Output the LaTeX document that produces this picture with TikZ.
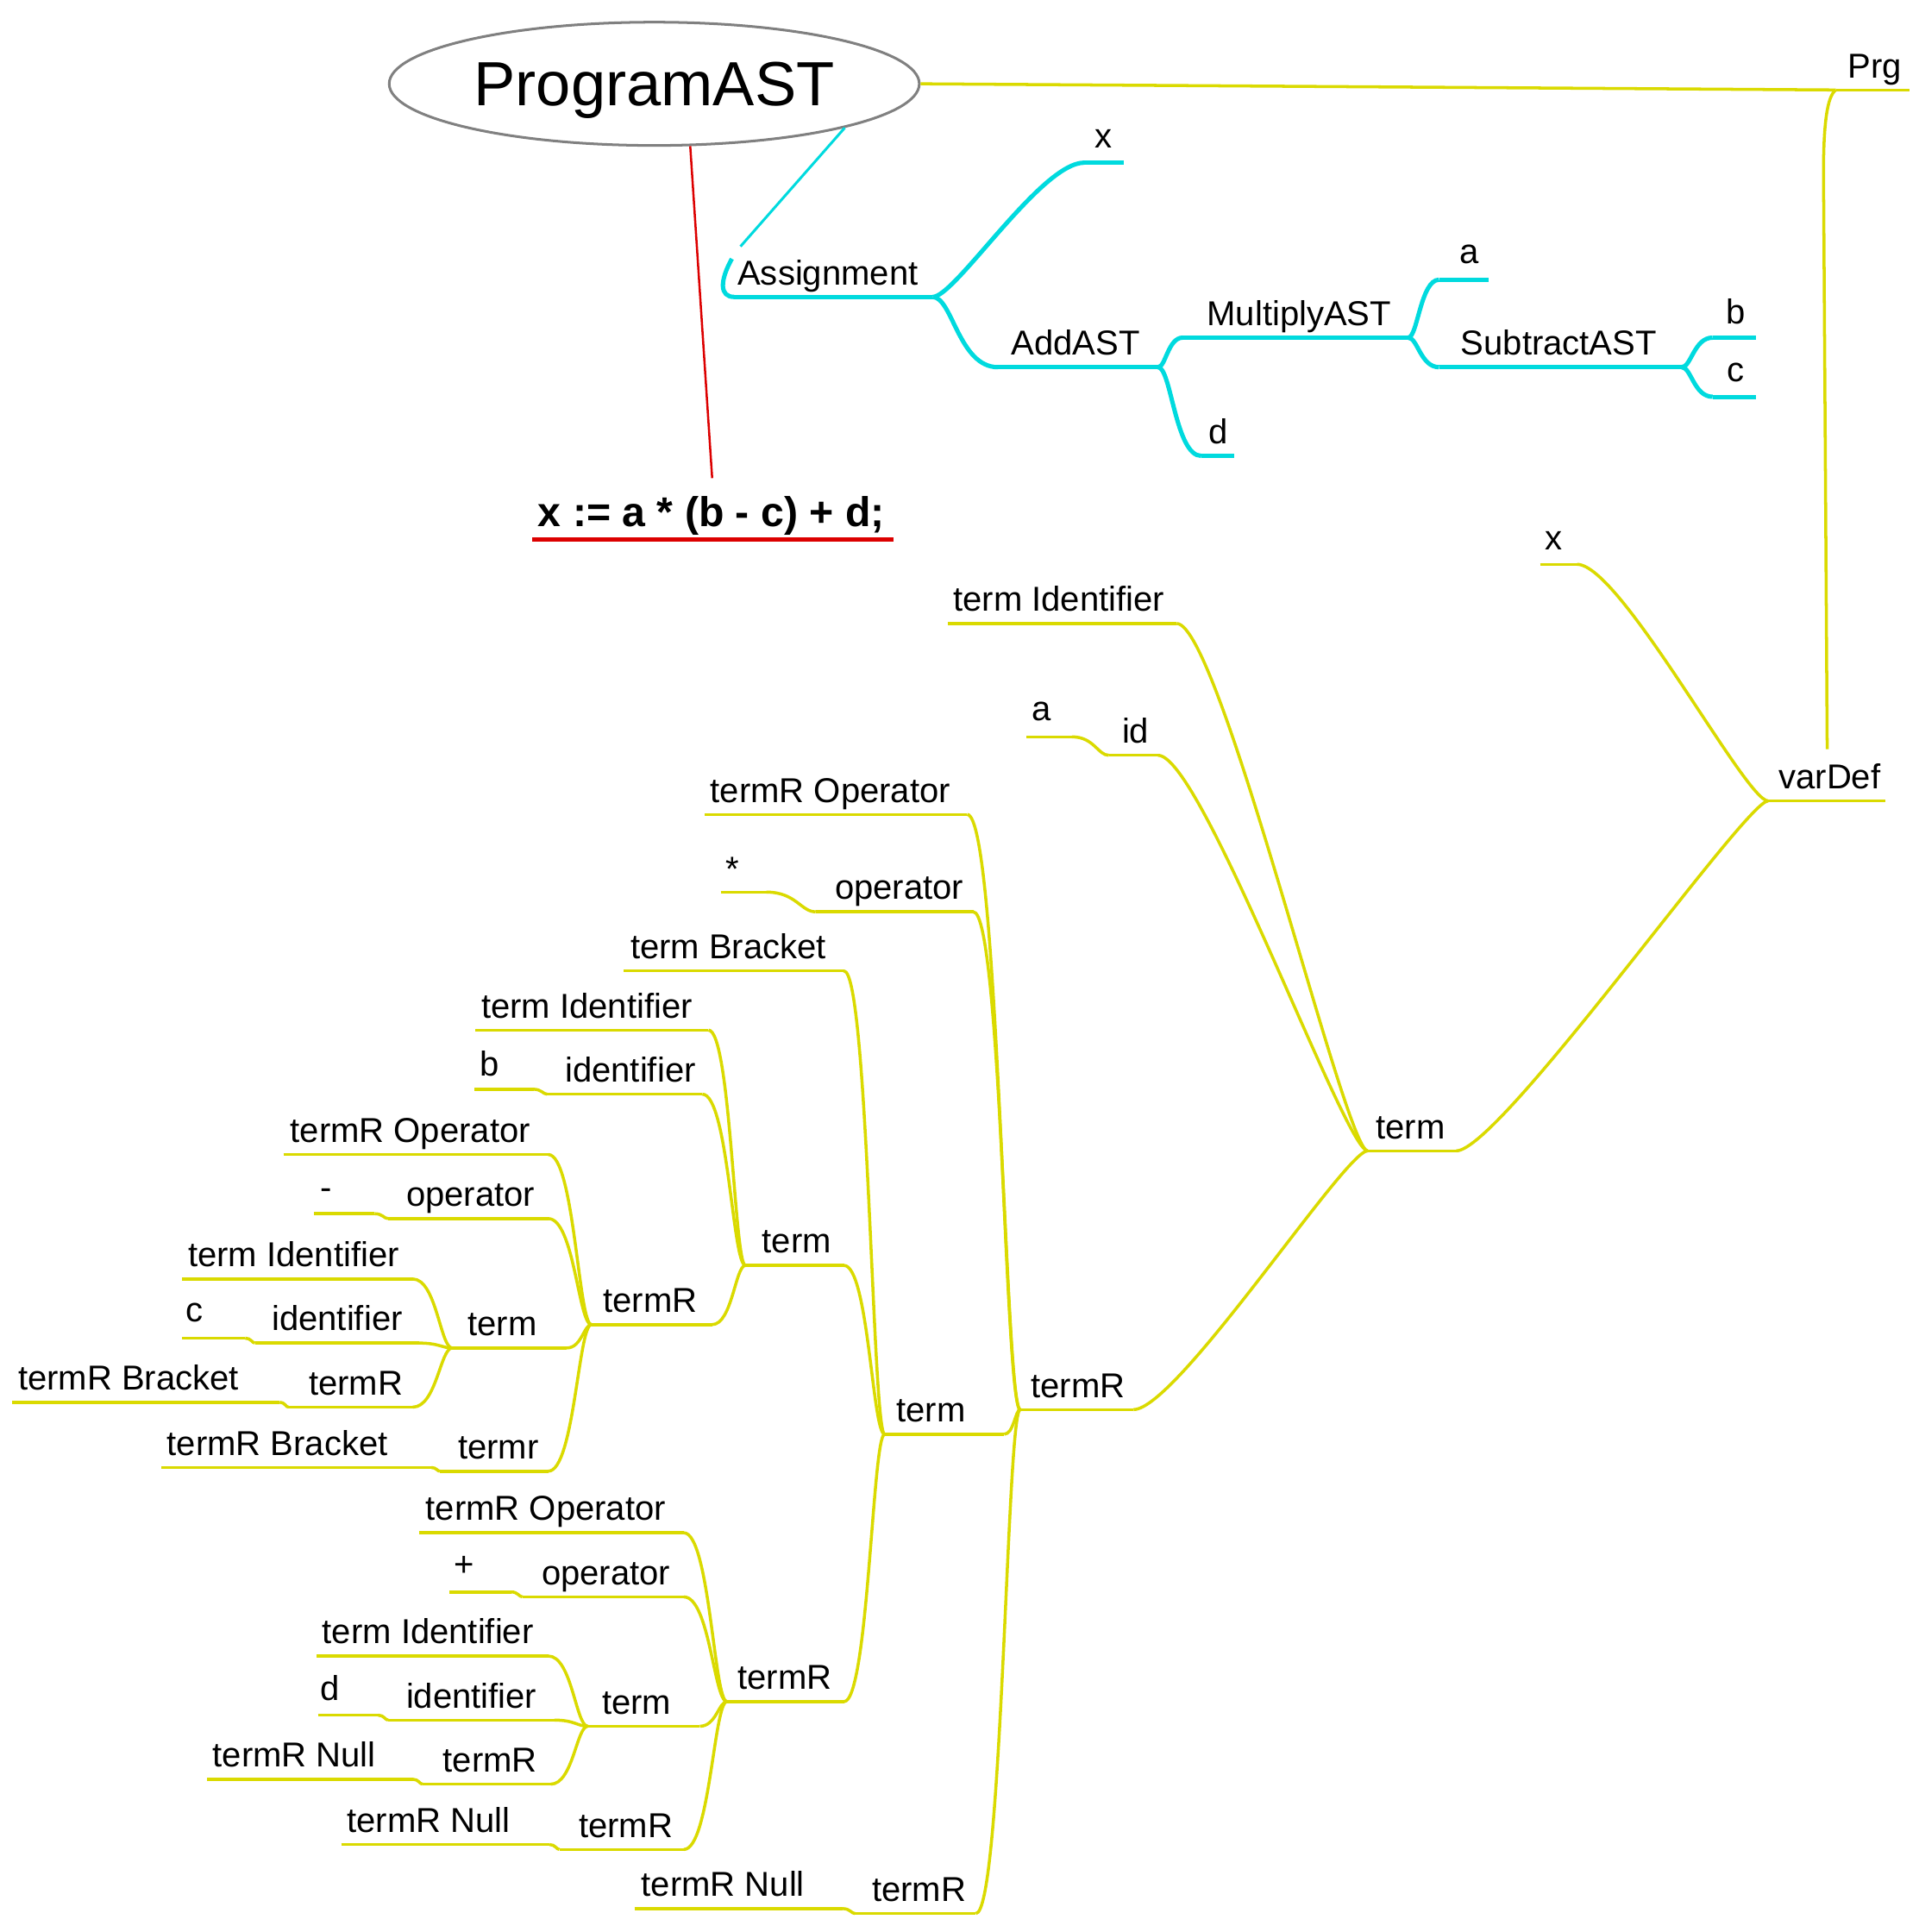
\documentclass[tikz,border=0pt]{standalone}
\usepackage{fontspec}
\setmainfont{Liberation Sans}
\usetikzlibrary{calc,shapes.geometric}
\definecolor{ylw}{RGB}{218,218,0}
\definecolor{cyn}{RGB}{0,218,222}
\definecolor{rd}{RGB}{220,0,0}
\newcommand{\mmnode}[8]{%
  \coordinate (#2L) at (#6,#5);
  \coordinate (#2R) at (#7,#5);
  \draw[#1] (#2L) -- (#2R);
  \node[txt, anchor=base west] (#2) at (#4,#5-#8) {#3};
}
\begin{document}
\begin{tikzpicture}[x=0.01cm,y=-0.01cm,
  txt/.style={inner sep=0pt, font=\fontsize{7.97pt}{9pt}\selectfont},
  yl/.style={draw=ylw, line width=0.7pt},
  cy/.style={draw=cyn, line width=1pt},
  conn/.style={to path={let \p1=(\tikztostart), \p2=(\tikztotarget),
     \n1={\x2-\x1}, \n2={min(5.2,0.3*abs(\n1))*sign(\n1)}, \n3={min(10,0.6*abs(\n1))*sign(\n1)} in
     .. controls ({\x1+\n2},\y1) and ({\x2-\n3},\y2) .. (\tikztotarget)}}]
\useasboundingbox (0,0) rectangle (1557,1568);

% root
\node[ellipse, draw=gray, line width=0.6pt, minimum width=4.3cm, minimum height=1.0cm,
  inner sep=0pt, text depth=0pt, font=\fontsize{14.4pt}{16pt}\selectfont] (root) at (531,68) {ProgramAST};

% formula
\node[inner sep=0pt, anchor=base west, font=\bfseries\fontsize{9.6pt}{11pt}\selectfont] (formula) at (436,427) {x := a * (b - c) + d;};
\coordinate (ftop) at (578,388);
\coordinate (fulA) at (432,438);
\coordinate (fulB) at (725,438);
\draw[rd, line width=0.9pt] (fulA) -- (fulB);
\draw[rd, line width=0.5pt] (root.-60) -- (ftop);

% cyan tree
\mmnode{cy}{asg}{Assignment}{598}{241}{596}{757}{10}
\mmnode{cy}{xt}{x}{888}{132}{880}{912}{12}
\mmnode{cy}{add}{AddAST}{820}{298}{810}{940}{10}
\mmnode{cy}{mul}{MultiplyAST}{979}{274}{960}{1143}{10}
\mmnode{cy}{dt}{d}{980}{370}{975}{1002}{10}
\mmnode{cy}{at}{a}{1184}{227}{1168}{1208}{13}
\mmnode{cy}{sub}{SubtractAST}{1185}{298}{1168}{1365}{10}
\mmnode{cy}{bt}{b}{1400}{274}{1390}{1425}{11}
\mmnode{cy}{ct}{c}{1401}{322}{1390}{1425}{12}
\coordinate (asgtop) at (601,200);
\coordinate (asghook) at (594,210);
\draw[draw=cyn, line width=0.6pt] (root.-13.5) -- (asgtop);
\draw[cy] (asghook) .. controls (584,228) and (584,241) .. (asgL);
\draw[cy] (asgR) to[conn] (xtL);
\draw[cy] (asgR) to[conn] (addL);
\draw[cy] (addR) to[conn] (mulL);
\draw[cy] (addR) to[conn] (dtL);
\draw[cy] (mulR) to[conn] (atL);
\draw[cy] (mulR) to[conn] (subL);
\draw[cy] (subR) to[conn] (btL);
\draw[cy] (subR) to[conn] (ctL);

% yellow tree
\mmnode{yl}{prg}{Prg}{1499}{73}{1490}{1550}{10}
\draw[yl] (root.east) -- (prgL);
\mmnode{yl}{vd}{varDef}{1443}{650}{1435}{1530}{10}
\coordinate (vdtop) at (1483,608);
\draw[yl] (prgL) .. controls (1483,78) and (1480,100) .. (1480,140) -- (vdtop);
\mmnode{yl}{xv}{x}{1253}{458}{1250}{1280}{12}
\mmnode{yl}{tmA}{term}{1116}{934}{1110}{1182}{10}
\mmnode{yl}{tiA}{term Identifier}{773}{506}{769}{955}{10}
\mmnode{yl}{idA}{id}{910}{613}{900}{940}{10}
\mmnode{yl}{aA}{a}{837}{598}{833}{870}{13}
\mmnode{yl}{trA}{termR}{836}{1144}{828}{920}{10}
\mmnode{yl}{troA}{termR Operator}{576}{661}{572}{785}{10}
\mmnode{yl}{opA}{operator}{677}{740}{662}{790}{10}
\mmnode{yl}{starA}{*}{588}{724}{585}{622}{9}
\mmnode{yl}{tmB}{term}{727}{1164}{718}{815}{10}
\mmnode{yl}{trN}{termR}{707}{1553}{694}{792}{10}
\mmnode{yl}{nullA}{termR Null}{520}{1549}{515}{684}{10}
\mmnode{yl}{tbB}{term Bracket}{511}{788}{506}{685}{10}
\mmnode{yl}{tmC}{term}{618}{1027}{605}{685}{10}
\mmnode{yl}{tiC}{term Identifier}{390}{836}{386}{575}{10}
\mmnode{yl}{idC}{identifier}{458}{888}{444}{570}{10}
\mmnode{yl}{bC}{b}{389}{884}{385}{433}{11}
\mmnode{yl}{trC}{termR}{489}{1075}{480}{578}{10}
\mmnode{yl}{troC}{termR Operator}{235}{937}{230}{445}{10}
\mmnode{yl}{opC}{operator}{329}{989}{315}{445}{10}
\mmnode{yl}{minusC}{-}{259}{985}{255}{304}{12}
\mmnode{yl}{tmD}{term}{379}{1094}{367}{460}{10}
\mmnode{yl}{tiD}{term Identifier}{152}{1038}{148}{335}{10}
\mmnode{yl}{idD}{identifier}{220}{1090}{207}{340}{10}
\mmnode{yl}{cD}{c}{150}{1086}{148}{199}{13}
\mmnode{yl}{trD}{termR}{250}{1142}{234}{335}{10}
\mmnode{yl}{brD}{termR Bracket}{14}{1138}{10}{227}{10}
\mmnode{yl}{trrC}{termr}{371}{1194}{357}{445}{10}
\mmnode{yl}{brC}{termR Bracket}{135}{1191}{131}{350}{10}
\mmnode{yl}{trE}{termR}{598}{1381}{590}{685}{10}
\mmnode{yl}{troE}{termR Operator}{345}{1244}{340}{555}{10}
\mmnode{yl}{opE}{operator}{439}{1296}{424}{555}{10}
\mmnode{yl}{plusE}{+}{368}{1292}{365}{415}{13}
\mmnode{yl}{tmF}{term}{488}{1401}{477}{568}{10}
\mmnode{yl}{tiF}{term Identifier}{261}{1344}{257}{445}{10}
\mmnode{yl}{idF}{identifier}{329}{1396}{315}{450}{10}
\mmnode{yl}{dF}{d}{259}{1392}{258}{307}{12}
\mmnode{yl}{trF}{termR}{359}{1448}{343}{447}{10}
\mmnode{yl}{nullF}{termR Null}{172}{1444}{168}{335}{10}
\mmnode{yl}{trG}{termR}{469}{1501}{454}{555}{10}
\mmnode{yl}{nullG}{termR Null}{281}{1497}{277}{446}{10}

\draw[yl] (vdL) to[conn] (xvR);
\draw[yl] (vdL) to[conn] (tmAR);
\draw[yl] (tmAL) to[conn] (tiAR);
\draw[yl] (tmAL) to[conn] (idAR);
\draw[yl] (tmAL) to[conn] (trAR);
\draw[yl] (idAL) to[conn] (aAR);
\draw[yl] (trAL) to[conn] (troAR);
\draw[yl] (trAL) to[conn] (opAR);
\draw[yl] (trAL) to[conn] (tmBR);
\draw[yl] (trAL) to[conn] (trNR);
\draw[yl] (opAL) to[conn] (starAR);
\draw[yl] (trNL) to[conn] (nullAR);
\draw[yl] (tmBL) to[conn] (tbBR);
\draw[yl] (tmBL) to[conn] (tmCR);
\draw[yl] (tmBL) to[conn] (trER);
\draw[yl] (tmCL) to[conn] (tiCR);
\draw[yl] (tmCL) to[conn] (idCR);
\draw[yl] (tmCL) to[conn] (trCR);
\draw[yl] (idCL) to[conn] (bCR);
\draw[yl] (trCL) to[conn] (troCR);
\draw[yl] (trCL) to[conn] (opCR);
\draw[yl] (trCL) to[conn] (tmDR);
\draw[yl] (trCL) to[conn] (trrCR);
\draw[yl] (opCL) to[conn] (minusCR);
\draw[yl] (tmDL) to[conn] (tiDR);
\draw[yl] (tmDL) to[conn] (idDR);
\draw[yl] (tmDL) to[conn] (trDR);
\draw[yl] (idDL) to[conn] (cDR);
\draw[yl] (trDL) to[conn] (brDR);
\draw[yl] (trrCL) to[conn] (brCR);
\draw[yl] (trEL) to[conn] (troER);
\draw[yl] (trEL) to[conn] (opER);
\draw[yl] (trEL) to[conn] (tmFR);
\draw[yl] (trEL) to[conn] (trGR);
\draw[yl] (opEL) to[conn] (plusER);
\draw[yl] (tmFL) to[conn] (tiFR);
\draw[yl] (tmFL) to[conn] (idFR);
\draw[yl] (tmFL) to[conn] (trFR);
\draw[yl] (idFL) to[conn] (dFR);
\draw[yl] (trFL) to[conn] (nullFR);
\draw[yl] (trGL) to[conn] (nullGR);
\end{tikzpicture}
\end{document}
